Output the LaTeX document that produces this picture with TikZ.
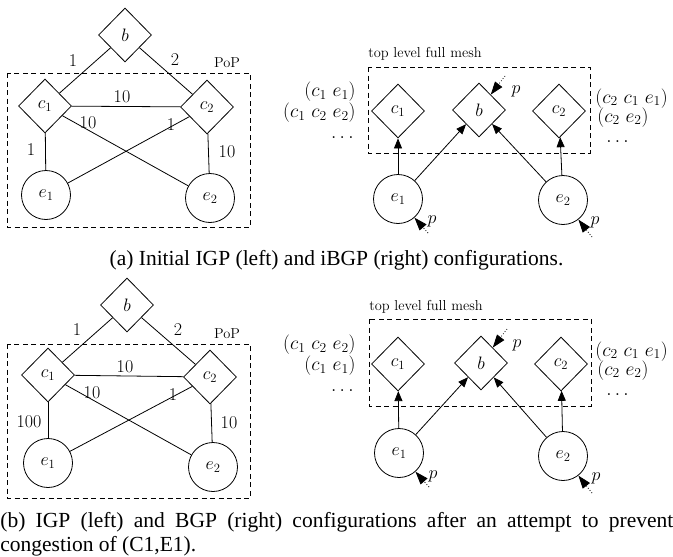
\RequirePackage{fix-cm}
\documentclass[tikz,border=0pt]{standalone}
\usepackage{fontspec}
\newfontfamily\capfont{Liberation Serif}
\usetikzlibrary{shapes.geometric,arrows.meta}
\newcommand\mainfs{\fontsize{18pt}{21pt}\selectfont}
\newcommand\pathfs{\fontsize{19.5pt}{22pt}\selectfont}
\newcommand\smallfs{\fontsize{14.4pt}{17pt}\selectfont}
\newcommand\capfs{\capfont\fontsize{21.5pt}{24pt}\selectfont}
\begin{document}
\begin{tikzpicture}[x=1pt,y=-1pt,line width=0.8pt,
  dia/.style={diamond,draw,inner sep=0pt,minimum width=53pt,minimum height=54pt,font=\mainfs},
  cir/.style={circle,draw,inner sep=0pt,minimum size=49pt,font=\mainfs},
  wt/.style={inner sep=0pt,font=\mainfs},
  lbl/.style={inner sep=0pt,font=\mainfs},
  pathlbl/.style={inner sep=0pt,font=\pathfs},
  sm/.style={inner sep=0pt,font=\smallfs},
  dashbox/.style={draw,dash pattern=on 5pt off 3.5pt,line width=0.8pt},
  arr/.style={-{Triangle[length=10pt,width=8pt]}},
  parr/.style={dotted,-{Triangle[length=13pt,width=9pt]}},
  captxt/.style={inner sep=0pt,font=\capfs}]
\useasboundingbox (0,0) rectangle (673,557);

% ---------- (a) left: IGP ----------
\draw[dashbox] (7,73) rectangle (250,227);
\node[dia] (bA) at (125,35) {$b$};
\node[dia] (c1A) at (45,106) {$c_1$};
\node[dia] (c2A) at (207,107) {$c_2$};
\node[cir] (e1A) at (46,195) {$e_1$};
\node[cir] (e2A) at (210,198) {$e_2$};
\node[sm] (popA) at (227,63) {PoP};
\draw (bA) -- (c1A);
\draw (bA) -- (c2A);
\draw (c1A) -- (c2A);
\draw (c1A) -- (e1A);
\draw (c2A) -- (e2A);
\draw (c1A) -- (e2A);
\draw (c2A) -- (e1A);
\node[wt] (wA1) at (73,61) {1};
\node[wt] (wA2) at (175,60) {2};
\node[wt] (wA3) at (122,97) {10};
\node[wt] (wA4) at (88,123) {10};
\node[wt] (wA5) at (171,125) {1};
\node[wt] (wA6) at (31,150) {1};
\node[wt] (wA7) at (227,152) {10};

% ---------- (a) right: iBGP ----------
\node[sm,anchor=west] (meshA) at (368,54) {top level full mesh};
\draw[dashbox] (368,67) rectangle (590,153);
\node[dia] (rc1A) at (398,111) {$c_1$};
\node[dia] (rbA) at (479,110) {$b$};
\node[dia] (rc2A) at (559,111) {$c_2$};
\node[cir] (re1A) at (398,199) {$e_1$};
\node[cir] (re2A) at (563,200) {$e_2$};
\draw[arr] (re1A) -- (rc1A);
\draw[arr] (re1A) -- (rbA);
\draw[arr] (re2A) -- (rbA);
\draw[arr] (re2A) -- (rc2A);
\coordinate (pbA) at (505,76);
\coordinate (pe1A) at (428,233);
\coordinate (pe2A) at (592,237);
\draw[parr] (pbA) -- (rbA);
\draw[parr] (pe1A) -- (re1A);
\draw[parr] (pe2A) -- (re2A);
\node[lbl] (pbAl) at (516,91) {$p$};
\node[lbl] (pe1Al) at (432,221) {$p$};
\node[lbl] (pe2Al) at (595,222) {$p$};
\node[pathlbl,anchor=base east] (lA1) at (356,96.5) {$(c_1\ e_1)$};
\node[pathlbl,anchor=base east] (lA2) at (356,117.5) {$(c_1\ c_2\ e_2)$};
\node[pathlbl,anchor=base east] (lA3) at (354,138.5) {$\ldots$};
\node[pathlbl,anchor=base west] (rA1) at (595,103) {$(c_2\ c_1\ e_1)$};
\node[pathlbl,anchor=base west] (rA2) at (597,122) {$(c_2\ e_2)$};
\node[pathlbl,anchor=base west] (rA3) at (606,142) {$\ldots$};

\node[captxt,anchor=base] (capA) at (336.5,265) {(a) Initial IGP (left) and iBGP (right) configurations.};

% ---------- (b) left: IGP ----------
\draw[dashbox] (7,344) rectangle (250,498);
\node[dia] (bB) at (127,305) {$b$};
\node[dia] (c1B) at (48,375) {$c_1$};
\node[dia] (c2B) at (210,377) {$c_2$};
\node[cir] (e1B) at (48,463) {$e_1$};
\node[cir] (e2B) at (213,467) {$e_2$};
\node[sm] (popB) at (227,334) {PoP};
\draw (bB) -- (c1B);
\draw (bB) -- (c2B);
\draw (c1B) -- (c2B);
\draw (c1B) -- (e1B);
\draw (c2B) -- (e2B);
\draw (c1B) -- (e2B);
\draw (c2B) -- (e1B);
\node[wt] (wB1) at (77,330) {1};
\node[wt] (wB2) at (178,330) {2};
\node[wt] (wB3) at (125,367) {10};
\node[wt] (wB4) at (92,393) {10};
\node[wt] (wB5) at (173,395) {1};
\node[wt] (wB6) at (29,422) {100};
\node[wt] (wB7) at (229,423) {10};

% ---------- (b) right: BGP ----------
\node[sm,anchor=west] (meshB) at (369,307) {top level full mesh};
\draw[dashbox] (369,319) rectangle (591,406);
\node[dia] (rc1B) at (398,364) {$c_1$};
\node[dia] (rbB) at (481,363) {$b$};
\node[dia] (rc2B) at (561,364) {$c_2$};
\node[cir] (re1B) at (399,453) {$e_1$};
\node[cir] (re2B) at (563,456) {$e_2$};
\draw[arr] (re1B) -- (rc1B);
\draw[arr] (re1B) -- (rbB);
\draw[arr] (re2B) -- (rbB);
\draw[arr] (re2B) -- (rc2B);
\coordinate (pbB) at (507,329);
\coordinate (pe1B) at (429,487);
\coordinate (pe2B) at (592,493);
\draw[parr] (pbB) -- (rbB);
\draw[parr] (pe1B) -- (re1B);
\draw[parr] (pe2B) -- (re2B);
\node[lbl] (pbBl) at (517,345) {$p$};
\node[lbl] (pe1Bl) at (433,476) {$p$};
\node[lbl] (pe2Bl) at (596,478) {$p$};
\node[pathlbl,anchor=base east] (lB1) at (356,349.5) {$(c_1\ c_2\ e_2)$};
\node[pathlbl,anchor=base east] (lB2) at (356,370.5) {$(c_1\ e_1)$};
\node[pathlbl,anchor=base east] (lB3) at (354,391.5) {$\ldots$};
\node[pathlbl,anchor=base west] (rB1) at (595,356) {$(c_2\ c_1\ e_1)$};
\node[pathlbl,anchor=base west] (rB2) at (597,375) {$(c_2\ e_2)$};
\node[pathlbl,anchor=base west] (rB3) at (606,395) {$\ldots$};

\node[captxt,anchor=north west,text width=673pt,align=justify] (capB) at (0,511.5)
  {(b) IGP (left) and BGP (right) configurations after an attempt to prevent\linebreak congestion of (C1,E1).};
\end{tikzpicture}
\end{document}
